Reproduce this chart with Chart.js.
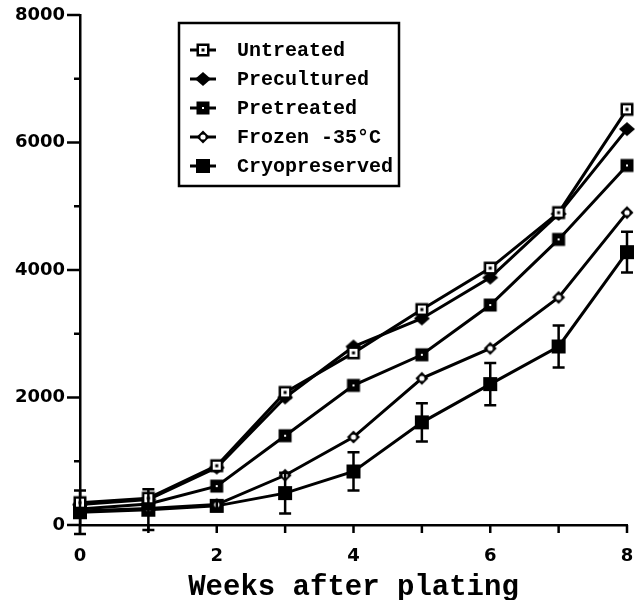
<!DOCTYPE html>
<html>
<head>
<meta charset="utf-8">
<script src="https://cdn.jsdelivr.net/npm/chart.js@4.4.0/dist/chart.umd.min.js"></script>
<style>
  html, body { margin: 0; padding: 0; background: #fff; }
  #wrap { width: 639px; height: 600px; }
</style>
</head>
<body>
<div id="wrap"><canvas id="growth"></canvas></div>
<script>
const weeks = [0, 1, 2, 3, 4, 5, 6, 7, 8];

const untreated = [350, 420, 930, 2080, 2700, 3380, 4030, 4900, 6520];
const precultured = [320, 400, 900, 2000, 2800, 3240, 3880, 4880, 6210];
const pretreated = [250, 330, 610, 1400, 2190, 2670, 3450, 4480, 5640];
const frozen = [220, 260, 320, 780, 1380, 2300, 2770, 3570, 4900];
const cryopreserved = [200, 240, 300, 500, 840, 1610, 2210, 2800, 4280];
const cryoError = [340, 320, 80, 320, 300, 300, 330, 330, 320];

const seriesNames = ["Untreated", "Precultured", "Pretreated", "Frozen -35\u00B0C", "Cryopreserved"];
const xTitle = "Weeks after plating";

// little canvases used as point styles (plot and legend)
function makeMarker(kind) {
  const c = document.createElement("canvas");
  c.width = 18;
  c.height = 18;
  const g = c.getContext("2d");
  const m = 9;
  g.fillStyle = "#000";
  if (kind === "openSquare") {
    g.fillRect(m - 6.5, m - 6.5, 13, 13);
    g.fillStyle = "#fff";
    g.fillRect(m - 4, m - 4, 8, 8);
    g.fillStyle = "#000";
    g.fillRect(m - 1.5, m - 1.5, 3, 3);
  } else if (kind === "diamond") {
    g.beginPath();
    g.moveTo(m - 8, m);
    g.lineTo(m, m - 7);
    g.lineTo(m + 8, m);
    g.lineTo(m, m + 7);
    g.closePath();
    g.fill();
  } else if (kind === "dotSquare") {
    g.fillRect(m - 6.5, m - 6.5, 13, 13);
    g.fillStyle = "#fff";
    g.fillRect(m - 1, m - 1, 2, 2);
  } else if (kind === "openDiamond") {
    g.beginPath();
    g.moveTo(m - 6.5, m);
    g.lineTo(m, m - 6.5);
    g.lineTo(m + 6.5, m);
    g.lineTo(m, m + 6.5);
    g.closePath();
    g.fill();
    g.fillStyle = "#fff";
    g.beginPath();
    g.arc(m, m, 2.6, 0, Math.PI * 2);
    g.fill();
  } else {
    g.fillRect(m - 7, m - 7, 14, 14);
  }
  return c;
}

const markers = [
  makeMarker("openSquare"),
  makeMarker("diamond"),
  makeMarker("dotSquare"),
  makeMarker("openDiamond"),
  makeMarker("square"),
];

const seriesValues = [untreated, precultured, pretreated, frozen, cryopreserved];

const datasets = seriesValues.map((vals, i) => ({
  label: seriesNames[i],
  data: weeks.map((w, j) => ({ x: w, y: vals[j] })),
  borderColor: "#000",
  borderWidth: 3,
  pointStyle: markers[i],
  pointRadius: 7,
  tension: 0,
  fill: false,
  clip: false,
}));

// axis tick marks: long at labelled values, short in between
const tickMarks = {
  id: "tickMarks",
  afterDraw(chart) {
    const { ctx, scales: { x, y } } = chart;
    ctx.save();
    ctx.strokeStyle = "#000";
    ctx.lineWidth = 2.5;
    for (let v = 0; v <= 8000; v += 1000) {
      const py = y.getPixelForValue(v);
      const len = v % 2000 === 0 ? 13 : 6;
      ctx.beginPath();
      ctx.moveTo(x.left - len, py);
      ctx.lineTo(x.left, py);
      ctx.stroke();
    }
    for (let w = 0; w <= 8; w++) {
      const px = x.getPixelForValue(w);
      ctx.beginPath();
      ctx.moveTo(px, y.bottom);
      ctx.lineTo(px, y.bottom + 8);
      ctx.stroke();
    }
    ctx.restore();
  },
};

const errorBars = {
  id: "errorBars",
  afterDatasetsDraw(chart) {
    const { ctx, scales: { x, y } } = chart;
    ctx.save();
    ctx.strokeStyle = "#000";
    ctx.lineWidth = 2.5;
    weeks.forEach((w, j) => {
      const px = x.getPixelForValue(w);
      const top = y.getPixelForValue(cryopreserved[j] + cryoError[j]);
      const bot = y.getPixelForValue(cryopreserved[j] - cryoError[j]);
      ctx.beginPath();
      ctx.moveTo(px, top);
      ctx.lineTo(px, bot);
      ctx.moveTo(px - 6, top);
      ctx.lineTo(px + 6, top);
      ctx.moveTo(px - 6, bot);
      ctx.lineTo(px + 6, bot);
      ctx.stroke();
    });
    ctx.restore();
  },
};

const boxLegend = {
  id: "boxLegend",
  afterDraw(chart) {
    const ctx = chart.ctx;
    ctx.save();
    ctx.strokeStyle = "#000";
    ctx.lineWidth = 2.5;
    ctx.strokeRect(179, 23, 220, 163);
    ctx.font = "bold 20px 'Liberation Mono', 'Courier New', monospace";
    ctx.textBaseline = "middle";
    ctx.fillStyle = "#000";
    seriesNames.forEach((name, i) => {
      const cy = 50 + i * 29;
      ctx.lineWidth = 3;
      ctx.beginPath();
      ctx.moveTo(190, cy);
      ctx.lineTo(216, cy);
      ctx.stroke();
      ctx.drawImage(markers[i], 203 - 9, cy - 9);
      ctx.fillText(name, 237, cy + 1);
    });
    ctx.restore();
  },
};

new Chart(document.getElementById("growth"), {
  type: "line",
  data: { datasets },
  plugins: [tickMarks, errorBars, boxLegend],
  options: {
    responsive: true,
    maintainAspectRatio: false,
    animation: false,
    layout: { padding: { left: 0, right: 12, top: 15, bottom: 0 } },
    plugins: { legend: { display: false }, tooltip: { enabled: false } },
    scales: {
      x: {
        type: "linear",
        min: 0,
        max: 8,
        afterFit: (s) => {
          s.height = 75;
          s.paddingLeft = 0;
          s.paddingRight = 0;
        },
        grid: { display: false, drawTicks: false },
        border: { display: true, color: "#000", width: 2.5 },
        ticks: {
          stepSize: 1,
          padding: 21,
          color: "#000",
          font: { family: "'DejaVu Sans'", weight: "bold", size: 18 },
          callback: (v) => (v % 2 === 0 ? String(v) : ""),
        },
        title: {
          display: true,
          text: xTitle,
          color: "#000",
          font: { family: "'Liberation Mono'", weight: "bold", size: 29, lineHeight: 0.82 },
          padding: { top: 0, bottom: 0 },
        },
      },
      y: {
        min: 0,
        max: 8000,
        afterFit: (s) => {
          s.width = 80;
          s.paddingTop = 0;
          s.paddingBottom = 0;
        },
        grid: { display: false, drawTicks: false },
        border: { display: true, color: "#000", width: 2.5 },
        ticks: {
          stepSize: 1000,
          padding: 15,
          color: "#000",
          font: { family: "'DejaVu Sans'", weight: "bold", size: 18 },
          callback: (v) => (v % 2000 === 0 ? String(v) : ""),
        },
      },
    },
  },
});
</script>
</body>
</html>
